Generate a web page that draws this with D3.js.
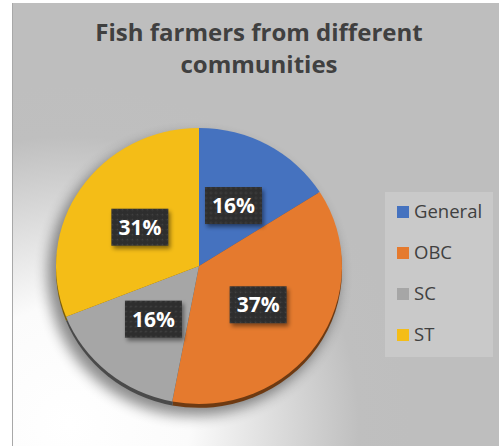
<!DOCTYPE html>
<html><head><meta charset="utf-8">
<script src="https://cdn.jsdelivr.net/npm/d3@7"></script>
<style>html,body{margin:0;padding:0;background:#fff;}svg{display:block;}</style>
</head><body>
<script>
const title = ["Fish farmers from different", "communities"];
const categories = ["General", "OBC", "SC", "ST"];
const values = [16, 37, 16, 31];
const colors = ["#4572bf", "#e57a2e", "#a6a6a6", "#f4bd17"];
const rimColors = ["#2c4a7c", "#6e3a12", "#4a4a4a", "#7a5c08"];

const W = 499, H = 446;
const svg = d3.select("body").append("svg").attr("width", W).attr("height", H);
const defs = svg.append("defs");

const bg = defs.append("radialGradient").attr("id", "bg")
  .attr("gradientUnits", "userSpaceOnUse")
  .attr("cx", 70).attr("cy", 425).attr("r", 340);
bg.append("stop").attr("offset", 0).attr("stop-color", "#ffffff");
bg.append("stop").attr("offset", 0.35).attr("stop-color", "#fbfbfb");
bg.append("stop").attr("offset", 0.85).attr("stop-color", "#bfbfbf");
bg.append("stop").attr("offset", 1).attr("stop-color", "#bebebe");

const sh = defs.append("filter").attr("id", "pieShadow").attr("x", "-30%").attr("y", "-30%").attr("width", "160%").attr("height", "160%");
sh.append("feGaussianBlur").attr("stdDeviation", 7);

const bs = defs.append("filter").attr("id", "boxShadow").attr("x", "-30%").attr("y", "-30%").attr("width", "160%").attr("height", "160%");
bs.append("feDropShadow").attr("dx", 2).attr("dy", 3).attr("stdDeviation", 2).attr("flood-color", "#000").attr("flood-opacity", 0.45);

const pat = defs.append("pattern").attr("id", "dots").attr("patternUnits", "userSpaceOnUse").attr("width", 5).attr("height", 5);
pat.append("rect").attr("width", 5).attr("height", 5).attr("fill", "#2f2f2f");
pat.append("circle").attr("cx", 2.5).attr("cy", 2.5).attr("r", 0.8).attr("fill", "#474747");

// chart area
svg.append("rect").attr("x", 12).attr("y", 3).attr("width", W - 12).attr("height", H - 3).attr("fill", "url(#bg)");
svg.append("line").attr("x1", 12.5).attr("x2", 12.5).attr("y1", 3).attr("y2", H).attr("stroke", "#a8a8a8").attr("stroke-width", 1);

// title
svg.append("text").attr("x", 259).attr("y", 41).attr("text-anchor", "middle")
  .attr("font-family", "'Open Sans', sans-serif").attr("font-weight", "bold").attr("font-size", 24)
  .attr("fill", "#404040").selectAll("tspan").data(title).join("tspan")
  .attr("x", 259).attr("dy", (d, i) => i ? 32 : 0).text(d => d);

// pie
const cx = 199, cy = 266, r = 143, sy = 0.965;
const pie = d3.pie().sort(null).value(d => d)(values);
const arc = d3.arc().innerRadius(0).outerRadius(r);
const lblArc = d3.arc().innerRadius(0).outerRadius(r);

const g = svg.append("g").attr("transform", `translate(${cx},${cy}) scale(1,${sy})`);
g.append("circle").attr("cx", -6).attr("cy", 10).attr("r", r + 2).attr("fill", "#000").attr("opacity", 0.45).attr("filter", "url(#pieShadow)");
g.append("g").attr("transform", "translate(0,4)").selectAll("path").data(pie).join("path")
  .attr("d", arc).attr("fill", (d, i) => rimColors[i]);
g.append("g").selectAll("path").data(pie).join("path")
  .attr("d", arc).attr("fill", (d, i) => colors[i]);

// labels
const lg = svg.append("g");
pie.forEach((d, i) => {
  const [x, y] = lblArc.centroid(d);
  const px = cx + x, py = cy + y * sy;
  const b = lg.append("g").attr("transform", `translate(${px},${py})`);
  b.append("rect").attr("x", -28.5).attr("y", -18.5).attr("width", 57).attr("height", 37)
    .attr("fill", "url(#dots)").attr("filter", "url(#boxShadow)");
  b.append("text").attr("text-anchor", "middle").attr("dy", "0.36em")
    .attr("font-family", "'Open Sans', sans-serif").attr("font-weight", "bold").attr("font-size", 21)
    .attr("fill", "#fff").text(values[i] + "%");
});

// legend
const leg = svg.append("g");
leg.append("rect").attr("x", 385).attr("y", 192).attr("width", 108).attr("height", 165).attr("fill", "#c9c9c9");
const item = leg.selectAll("g").data(categories).join("g")
  .attr("transform", (d, i) => `translate(397,${212 + i * 41})`);
item.append("rect").attr("x", 0).attr("y", -6).attr("width", 12).attr("height", 12).attr("fill", (d, i) => colors[i]);
item.append("text").attr("x", 17).attr("dy", "0.35em")
  .attr("font-family", "'Open Sans', sans-serif").attr("font-size", 18.5).attr("fill", "#404040").text(d => d);
</script>
</body></html>
